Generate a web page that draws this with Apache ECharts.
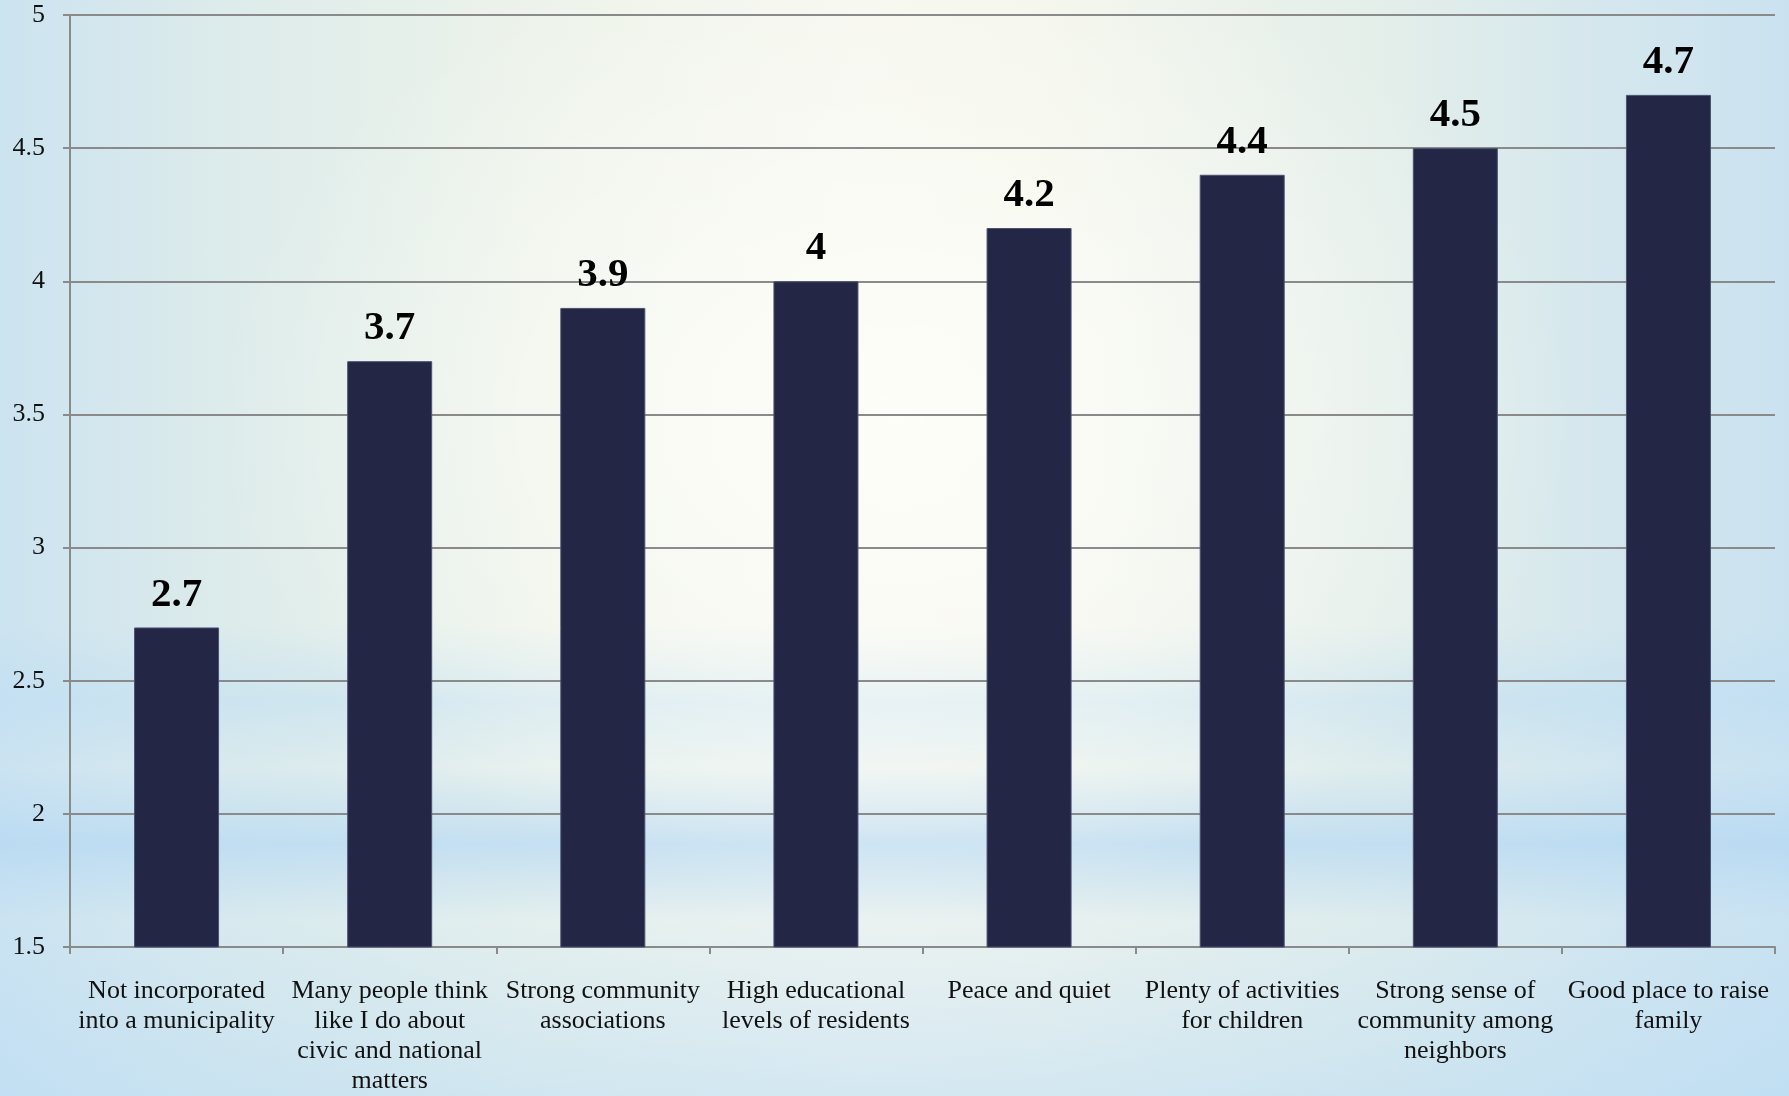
<!DOCTYPE html>
<html>
<head>
<meta charset="utf-8">
<script src="https://cdn.jsdelivr.net/npm/echarts@6/dist/echarts.min.js"></script>
<style>
  html, body { margin: 0; padding: 0; width: 1789px; height: 1096px; overflow: hidden; }
  body {
    background:
      radial-gradient(ellipse 38% 45% at 50% 38%, rgba(255,255,250,0.85) 0%, rgba(255,255,250,0) 100%),
      linear-gradient(to bottom, rgba(185,220,245,0) 0%, rgba(185,220,245,0) 57%, rgba(185,220,245,0.45) 64%, rgba(200,228,247,0.2) 70%, rgba(180,216,244,0.7) 77%, rgba(200,228,247,0.25) 84%, rgba(190,222,246,0.4) 92%, rgba(185,220,245,0.55) 100%),
      linear-gradient(to right, #cce3f0 0%, #dcebeb 12%, #edf3ea 30%, #f6f7ef 48%, #f4f6ec 58%, #e3eeea 78%, #d4e7ee 90%, #cae2f0 100%);
  }
  #chart { width: 1789px; height: 1096px; }
</style>
</head>
<body>
<div id="chart"></div>
<script>
const categories = [
  "Not incorporated\ninto a municipality",
  "Many people think\nlike I do about\ncivic and national\nmatters",
  "Strong community\nassociations",
  "High educational\nlevels of residents",
  "Peace and quiet",
  "Plenty of activities\nfor children",
  "Strong sense of\ncommunity among\nneighbors",
  "Good place to raise\nfamily"
];
const values = [2.7, 3.7, 3.9, 4, 4.2, 4.4, 4.5, 4.7];
const yMin = 1.5;
const yMax = 5;
const yStep = 0.5;

const serif = '"Liberation Serif", "Times New Roman", serif';
const chart = echarts.init(document.getElementById('chart'), null, { renderer: 'canvas' });
chart.setOption({
  backgroundColor: 'transparent',
  animation: false,
  grid: { left: 70, right: 14, top: 15, bottom: 145, containLabel: false },
  xAxis: {
    type: 'category',
    data: categories,
    axisLine: { show: true, lineStyle: { color: '#8a8a8a', width: 2 } },
    axisTick: { show: true, alignWithLabel: false, length: 7, lineStyle: { color: '#8a8a8a', width: 2 } },
    axisLabel: {
      interval: 0, fontFamily: serif, fontSize: 26, lineHeight: 30, color: '#111', margin: 29
    },
    splitLine: { show: false }
  },
  yAxis: {
    type: 'value',
    min: yMin, max: yMax, interval: yStep,
    axisLine: { show: true, lineStyle: { color: '#8a8a8a', width: 2 } },
    axisTick: { show: true, length: 7, lineStyle: { color: '#8a8a8a', width: 2 } },
    axisLabel: { fontFamily: serif, fontSize: 26, color: '#111', margin: 25 },
    splitLine: { show: true, lineStyle: { color: '#8a8a8a', width: 2 } }
  },
  series: [{
    type: 'bar',
    data: values,
    barWidth: 85,
    itemStyle: { color: '#232645', borderColor: '#4b5172', borderWidth: 1 },
    label: {
      show: true, position: 'top', distance: 12,
      fontFamily: serif, fontSize: 41, fontWeight: 'bold', color: '#000'
    }
  }]
});
</script>
</body>
</html>
